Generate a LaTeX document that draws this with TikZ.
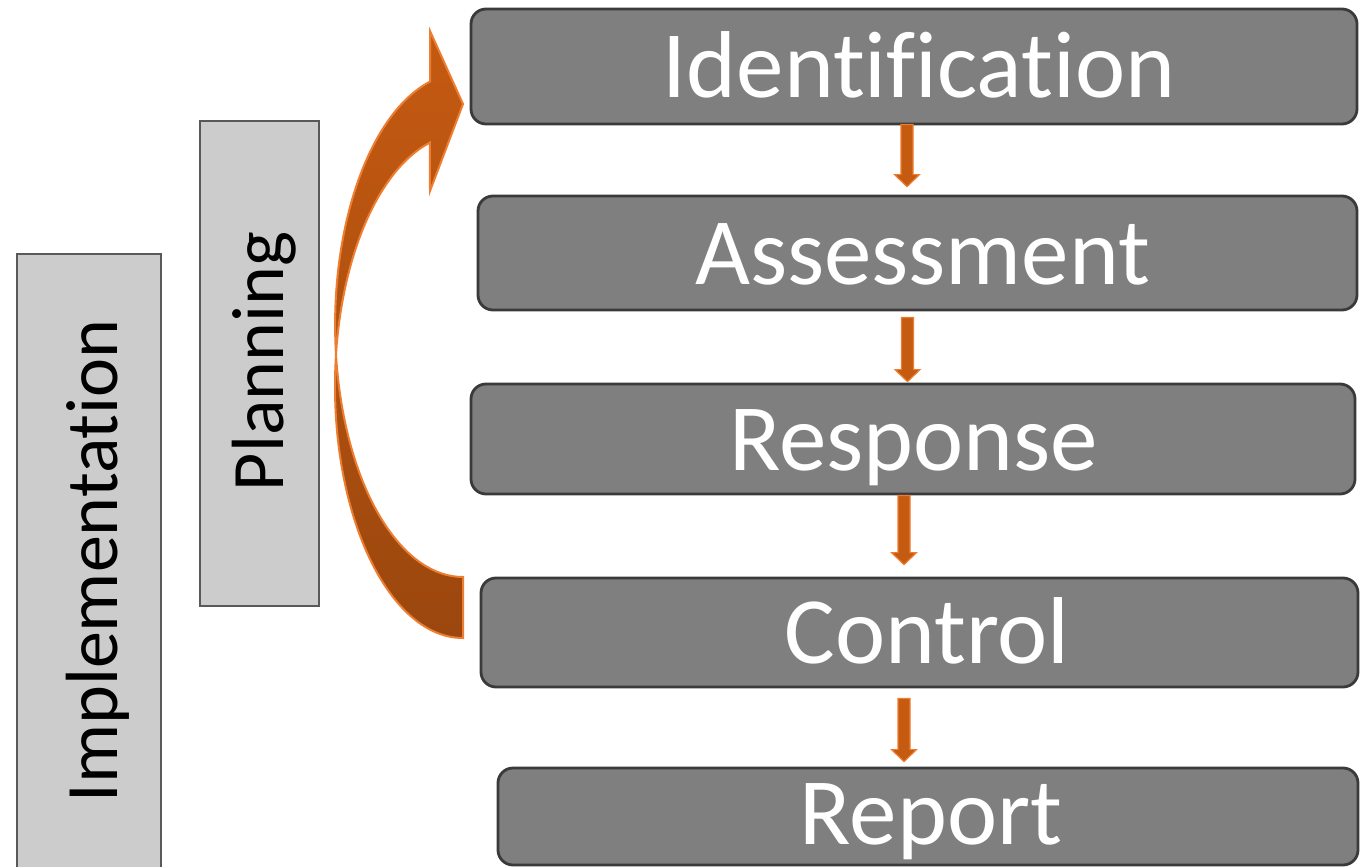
\documentclass[tikz,border=0pt]{standalone}
\usepackage{fontspec}
\setmainfont[RawFeature={-liga;-dlig;-clig}]{Carlito}
\usetikzlibrary{calc}
\definecolor{boxgray}{HTML}{7F7F7F}
\definecolor{boxedge}{HTML}{3A3A3A}
\definecolor{sidegray}{HTML}{CCCCCC}
\definecolor{sideedge}{HTML}{595959}
\definecolor{arrfill}{HTML}{C55A11}
\definecolor{arrdark}{HTML}{9B470E}
\definecolor{arredge}{HTML}{ED7D31}
\newcommand\flowarrow[5]{%
  \path[flowarr] let \p1=(#1.south), \p2=(#2.north) in
    (#3pt-6pt, \y1+#4pt) -- (#3pt+6pt, \y1+#4pt) -- (#3pt+6pt, \y2+#5pt+12pt)
    -- (#3pt+12.5pt, \y2+#5pt+12pt) -- (#3pt, \y2+#5pt)
    -- (#3pt-12.5pt, \y2+#5pt+12pt) -- (#3pt-6pt, \y2+#5pt+12pt) -- cycle;}
\begin{document}
\begin{tikzpicture}[x=1pt,y=-1pt,
  stepbox/.style={draw=boxedge, fill=boxgray, line width=2.8pt, rounded corners=15pt, inner sep=0pt},
  sidebox/.style={draw=sideedge, fill=sidegray, line width=2pt, inner sep=0pt},
  boxtext/.style={text=white, font=\fontsize{95}{100}\selectfont, anchor=base, inner sep=0pt},
  sidetext/.style={text=black, font=\fontsize{74}{90}\selectfont, anchor=base, inner sep=0pt, rotate=90},
  flowarr/.style={fill=arrfill, draw=arredge, line width=1.2pt, line join=miter},
  bigarrow/.style={top color=arrfill, bottom color=arrdark, draw=arredge, line width=2pt, line join=miter}]
\useasboundingbox (0,0) rectangle (1361,867);
\begin{scope}
\clip (0,0) rectangle (1361,867);
% side boxes
\node[sidebox, minimum width=144pt, minimum height=630pt] (impl) at (89,569) {};
\node[sidebox, minimum width=119pt, minimum height=485pt] (plan) at (259.5,363.5) {};
\node[sidetext] (impltext) at (117,561) {Implementation};
\node[sidetext] (plantext) at (283,361.5) {Planning};
% step boxes
\node[stepbox, minimum width=886pt, minimum height=115pt] (ident) at (914,66.5) {};
\node[stepbox, minimum width=879pt, minimum height=114pt] (assess) at (917.5,253) {};
\node[stepbox, minimum width=884pt, minimum height=110pt] (resp) at (913,439) {};
\node[stepbox, minimum width=877pt, minimum height=109pt] (ctrl) at (919.5,632.5) {};
\node[stepbox, minimum width=860pt, minimum height=97pt] (report) at (928,816.5) {};
\node[boxtext] (identtext) at (919,98) {Identification};
\node[boxtext] (assesstext) at (922.5,284) {Assessment};
\node[boxtext] (resptext) at (913.5,470) {Response};
\node[boxtext] (ctrltext) at (927,663) {Control};
\node[boxtext] (reporttext) at (931,844) {Report};
% flow arrows
\flowarrow{ident}{assess}{907}{1}{8}
\flowarrow{assess}{resp}{907.5}{-6}{1}
\flowarrow{resp}{ctrl}{904}{0}{12}
\flowarrow{ctrl}{report}{904}{-10}{5}
% big curved arrow from control back to identification
\coordinate (tail) at (463,638);
\path[bigarrow] (tail) arc[start angle=90, end angle=255, x radius=128, y radius=252]
  -- (430,191) -- (463,104) -- (430,31) -- (430,81.6)
  arc[start angle=255, end angle=90, x radius=128, y radius=252] -- cycle;
\end{scope}
\end{tikzpicture}
\end{document}
